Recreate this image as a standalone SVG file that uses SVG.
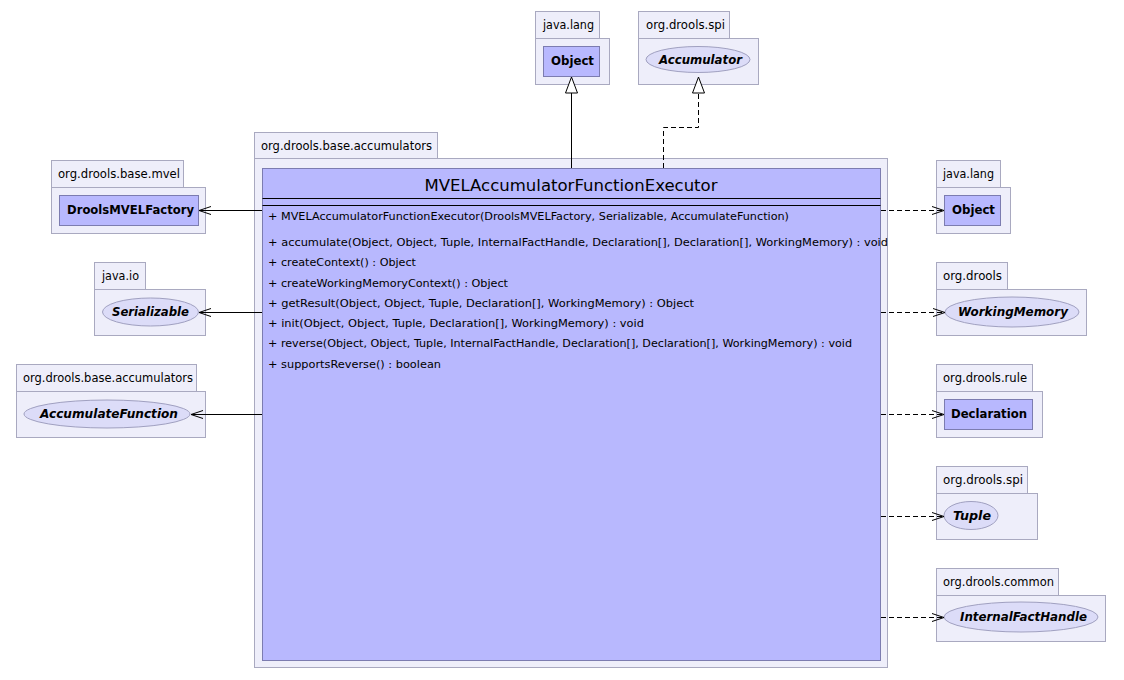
<svg xmlns="http://www.w3.org/2000/svg" width="1124" height="680" viewBox="0 0 1124 680">
<defs>
<style>
.pkg{fill:#eeeefa;stroke:#a9a9c0;stroke-width:1}
.cls{fill:#b8b8fe;stroke:#7c7cb0;stroke-width:1}
.ifc{fill:#dcdcf8;stroke:#a0a0c0;stroke-width:1}
.pl{font-family:"DejaVu Sans",sans-serif;font-size:11.5px;fill:#000}
.cn{font-family:"DejaVu Sans",sans-serif;font-size:13px;font-weight:bold;fill:#000}
.in{font-family:"DejaVu Sans",sans-serif;font-size:13px;font-weight:bold;font-style:italic;fill:#000}
.ttl{font-family:"DejaVu Sans",sans-serif;font-size:16px;fill:#000}
.m{font-family:"DejaVu Sans",sans-serif;font-size:11px;fill:#000}
.ln{fill:none;stroke:#000;stroke-width:1}
.dl{fill:none;stroke:#000;stroke-width:1;stroke-dasharray:5,3}
</style>
<marker id="open" viewBox="0 0 12 10" refX="12" refY="5" markerWidth="12" markerHeight="10" markerUnits="userSpaceOnUse" orient="auto">
<path d="M0,1 L12,5 L0,9" fill="none" stroke="#000" stroke-width="1"/>
</marker>
<marker id="tri" viewBox="0 0 18 14" refX="17" refY="7" markerWidth="18" markerHeight="14" markerUnits="userSpaceOnUse" orient="auto">
<path d="M1,1 L17,7 L1,13 Z" fill="#fff" stroke="#000" stroke-width="1"/>
</marker>
</defs>
<rect width="1124" height="680" fill="#fff"/>

<g id="pkg-main">
<rect class="pkg" x="254.5" y="132.5" width="183" height="26"/>
<rect class="pkg" x="254.5" y="158.5" width="633" height="509"/>
<text class="pl" x="261" y="150" textLength="171" lengthAdjust="spacingAndGlyphs">org.drools.base.accumulators</text>
</g>
<g id="MVELAccumulatorFunctionExecutor">
<rect class="cls" x="262.5" y="168.5" width="618" height="492"/>
<text class="ttl" x="571" y="191" text-anchor="middle" textLength="293" lengthAdjust="spacingAndGlyphs">MVELAccumulatorFunctionExecutor</text>
<line class="ln" x1="262.5" y1="198.5" x2="880.5" y2="198.5"/>
<line class="ln" x1="262.5" y1="205.5" x2="880.5" y2="205.5"/>
<text class="m" x="268" y="220" textLength="521" lengthAdjust="spacingAndGlyphs">+ MVELAccumulatorFunctionExecutor(DroolsMVELFactory, Serializable, AccumulateFunction)</text>
<text class="m" x="268" y="246" textLength="620" lengthAdjust="spacingAndGlyphs">+ accumulate(Object, Object, Tuple, InternalFactHandle, Declaration[], Declaration[], WorkingMemory) : void</text>
<text class="m" x="268" y="266" textLength="148" lengthAdjust="spacingAndGlyphs">+ createContext() : Object</text>
<text class="m" x="268" y="287" textLength="240" lengthAdjust="spacingAndGlyphs">+ createWorkingMemoryContext() : Object</text>
<text class="m" x="268" y="307" textLength="426" lengthAdjust="spacingAndGlyphs">+ getResult(Object, Object, Tuple, Declaration[], WorkingMemory) : Object</text>
<text class="m" x="268" y="327" textLength="376" lengthAdjust="spacingAndGlyphs">+ init(Object, Object, Tuple, Declaration[], WorkingMemory) : void</text>
<text class="m" x="268" y="347" textLength="584" lengthAdjust="spacingAndGlyphs">+ reverse(Object, Object, Tuple, InternalFactHandle, Declaration[], Declaration[], WorkingMemory) : void</text>
<text class="m" x="268" y="368" textLength="173" lengthAdjust="spacingAndGlyphs">+ supportsReverse() : boolean</text>
</g>

<g id="Object-top">
<rect class="pkg" x="535.5" y="11.5" width="64" height="27"/>
<rect class="pkg" x="535.5" y="38.5" width="74" height="46"/>
<text class="pl" x="543" y="29" textLength="51" lengthAdjust="spacingAndGlyphs">java.lang</text>
<rect class="cls" x="543.5" y="46.5" width="56" height="30"/>
<text class="cn" x="551" y="65" textLength="43" lengthAdjust="spacingAndGlyphs">Object</text>
</g>
<g id="Accumulator">
<rect class="pkg" x="638.5" y="11.5" width="91" height="27"/>
<rect class="pkg" x="638.5" y="38.5" width="120" height="46"/>
<text class="pl" x="646" y="29" textLength="79" lengthAdjust="spacingAndGlyphs">org.drools.spi</text>
<ellipse class="ifc" cx="698" cy="59.5" rx="52" ry="13"/>
<text class="in" x="659" y="64" textLength="83" lengthAdjust="spacingAndGlyphs">Accumulator</text>
</g>

<g id="DroolsMVELFactory">
<rect class="pkg" x="51.5" y="160.5" width="132" height="27"/>
<rect class="pkg" x="51.5" y="187.5" width="154" height="46"/>
<text class="pl" x="58" y="178" textLength="122" lengthAdjust="spacingAndGlyphs">org.drools.base.mvel</text>
<rect class="cls" x="59.5" y="195.5" width="139" height="30"/>
<text class="cn" x="67" y="214" textLength="127" lengthAdjust="spacingAndGlyphs">DroolsMVELFactory</text>
</g>
<g id="Serializable">
<rect class="pkg" x="94.5" y="262.5" width="51" height="27"/>
<rect class="pkg" x="94.5" y="289.5" width="111" height="46"/>
<text class="pl" x="102" y="280" textLength="37" lengthAdjust="spacingAndGlyphs">java.io</text>
<ellipse class="ifc" cx="150.5" cy="312" rx="48" ry="14"/>
<text class="in" x="112" y="316" textLength="77" lengthAdjust="spacingAndGlyphs">Serializable</text>
</g>
<g id="AccumulateFunction">
<rect class="pkg" x="16.5" y="364.5" width="180" height="27"/>
<rect class="pkg" x="16.5" y="391.5" width="189" height="46"/>
<text class="pl" x="23" y="382" textLength="170" lengthAdjust="spacingAndGlyphs">org.drools.base.accumulators</text>
<ellipse class="ifc" cx="107" cy="414" rx="83" ry="14"/>
<text class="in" x="40" y="418" textLength="138" lengthAdjust="spacingAndGlyphs">AccumulateFunction</text>
</g>

<g id="Object-right">
<rect class="pkg" x="936.5" y="160.5" width="64" height="27"/>
<rect class="pkg" x="936.5" y="187.5" width="74" height="46"/>
<text class="pl" x="943" y="178" textLength="51" lengthAdjust="spacingAndGlyphs">java.lang</text>
<rect class="cls" x="944.5" y="195.5" width="56" height="30"/>
<text class="cn" x="952" y="214" textLength="43" lengthAdjust="spacingAndGlyphs">Object</text>
</g>
<g id="WorkingMemory">
<rect class="pkg" x="936.5" y="262.5" width="71" height="27"/>
<rect class="pkg" x="936.5" y="289.5" width="150" height="46"/>
<text class="pl" x="943" y="280" textLength="59" lengthAdjust="spacingAndGlyphs">org.drools</text>
<ellipse class="ifc" cx="1012" cy="312" rx="67" ry="15"/>
<text class="in" x="958" y="316" textLength="110" lengthAdjust="spacingAndGlyphs">WorkingMemory</text>
</g>
<g id="Declaration">
<rect class="pkg" x="936.5" y="364.5" width="96" height="27"/>
<rect class="pkg" x="936.5" y="391.5" width="106" height="46"/>
<text class="pl" x="943" y="382" textLength="84" lengthAdjust="spacingAndGlyphs">org.drools.rule</text>
<rect class="cls" x="944.5" y="399.5" width="88" height="30"/>
<text class="cn" x="951" y="418" textLength="76" lengthAdjust="spacingAndGlyphs">Declaration</text>
</g>
<g id="Tuple">
<rect class="pkg" x="936.5" y="466.5" width="91" height="27"/>
<rect class="pkg" x="936.5" y="493.5" width="101" height="46"/>
<text class="pl" x="943" y="484" textLength="80" lengthAdjust="spacingAndGlyphs">org.drools.spi</text>
<ellipse class="ifc" cx="971" cy="515.5" rx="27" ry="14"/>
<text class="in" x="953" y="520" textLength="38" lengthAdjust="spacingAndGlyphs">Tuple</text>
</g>
<g id="InternalFactHandle">
<rect class="pkg" x="936.5" y="568.5" width="122" height="27"/>
<rect class="pkg" x="936.5" y="595.5" width="169" height="46"/>
<text class="pl" x="943" y="586" textLength="111" lengthAdjust="spacingAndGlyphs">org.drools.common</text>
<ellipse class="ifc" cx="1021" cy="617" rx="77" ry="15"/>
<text class="in" x="960" y="621" textLength="127" lengthAdjust="spacingAndGlyphs">InternalFactHandle</text>
</g>

<g id="connectors">
<path class="ln" d="M571.5,168 L571.5,77" marker-end="url(#tri)"/>
<path class="dl" d="M663.5,168 L663.5,127.5 L698.5,127.5 L698.5,77" marker-end="url(#tri)"/>
<path class="ln" d="M262,210.5 L199,210.5" marker-end="url(#open)"/>
<path class="ln" d="M262,312.5 L199,312.5" marker-end="url(#open)"/>
<path class="ln" d="M262,414.5 L191,414.5" marker-end="url(#open)"/>
<path class="dl" d="M881,210.5 L944,210.5" marker-end="url(#open)"/>
<path class="dl" d="M881,312.5 L945,312.5" marker-end="url(#open)"/>
<path class="dl" d="M881,414.5 L944,414.5" marker-end="url(#open)"/>
<path class="dl" d="M881,516.5 L944,516.5" marker-end="url(#open)"/>
<path class="dl" d="M881,617.5 L944,617.5" marker-end="url(#open)"/>
</g>
</svg>
